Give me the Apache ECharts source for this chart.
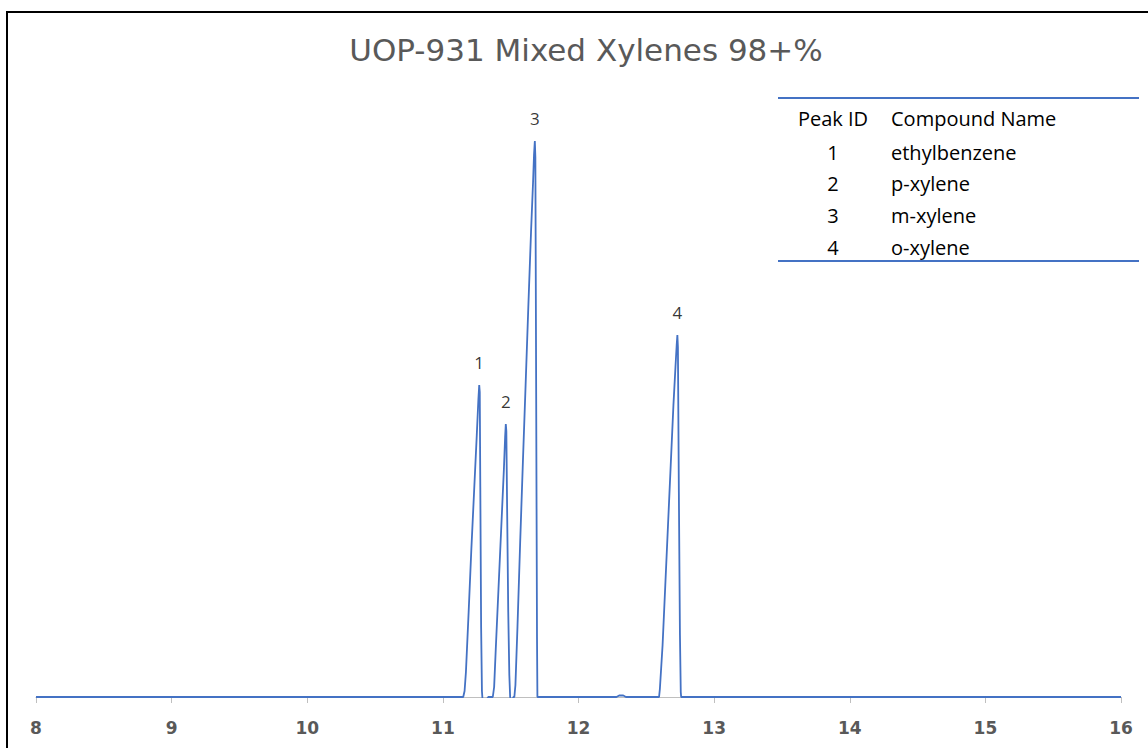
<!DOCTYPE html>
<html>
<head>
<meta charset="utf-8">
<script src="https://cdn.jsdelivr.net/npm/echarts@6/dist/echarts.min.js"></script>
<style>
  html, body { margin: 0; padding: 0; background: #fff; }
  #chart { width: 1148px; height: 748px; position: relative; }
  #frame { position: absolute; left: 6px; top: 11px; width: 1160px; height: 760px;
           border-left: 2px solid #000; border-top: 2px solid #000; pointer-events: none; z-index: 5; }
</style>
</head>
<body>
<div id="chart"></div>
<div id="frame"></div>
<script>
// ---- data (retention time in min, detector response in arbitrary units) ----
const titleText = 'UOP-931 Mixed Xylenes 98+%';
const xTicks = [8, 9, 10, 11, 12, 13, 14, 15, 16];

const baselineStart = [[8, 0], [11.15, 0]];
const peak1 = [[11.16, 6], [11.17, 25], [11.19, 85], [11.21, 148], [11.23, 205], [11.25, 262], [11.262, 298], [11.268, 312], [11.272, 305], [11.276, 210], [11.282, 70], [11.288, 6], [11.292, -2], [11.325, -2], [11.335, 0]];
const peak2 = [[11.368, 0], [11.378, 10], [11.39, 48], [11.41, 108], [11.43, 168], [11.45, 228], [11.459, 260], [11.464, 273], [11.468, 266], [11.474, 185], [11.482, 85], [11.49, 22], [11.496, 0], [11.50, -2], [11.515, -2], [11.52, 0]];
const peak3 = [[11.527, 0], [11.535, 12], [11.55, 70], [11.57, 155], [11.59, 235], [11.61, 312], [11.63, 390], [11.65, 465], [11.665, 515], [11.672, 542], [11.678, 556], [11.682, 540], [11.688, 300], [11.694, 60], [11.697, 0]];
const smallBump = [[12.28, 0], [12.30, 1.5], [12.33, 1.5], [12.35, 0]];
const peak4 = [[12.594, 0], [12.60, 8], [12.62, 52], [12.64, 112], [12.66, 172], [12.68, 232], [12.70, 292], [12.715, 330], [12.724, 352], [12.729, 362], [12.733, 350], [12.740, 205], [12.748, 62], [12.754, 5], [12.757, 0]];
const baselineEnd = [[16, 0]];

const peakLabels = ['1', '2', '3', '4'];
const peakX = [11.268, 11.464, 11.678, 12.729];
const peakY = [312, 273, 556, 362];

const tableHeaderId = 'Peak ID';
const tableHeaderName = 'Compound Name';
const tableIds = ['1', '2', '3', '4'];
const tableNames = ['ethylbenzene', 'p-xylene', 'm-xylene', 'o-xylene'];

// ---- build ----
const signal = [].concat(baselineStart, peak1, peak2, peak3, smallBump, peak4, baselineEnd);
const peakPoints = peakX.map((x, i) => ({ value: [x, peakY[i]], name: peakLabels[i] }));

const blue = '#4472C4';
const tableLeft = 778, tableRight = 1139, tableTop = 98, tableBottom = 261;
const idX = 833, nameX = 891;
const rowY = [118, 152, 183, 215, 247];
const tableFont = '20px "Open Sans", sans-serif';

const graphic = [
  { type: 'line', shape: { x1: tableLeft, y1: tableTop, x2: tableRight, y2: tableTop }, style: { stroke: blue, lineWidth: 2 } },
  { type: 'line', shape: { x1: tableLeft, y1: tableBottom, x2: tableRight, y2: tableBottom }, style: { stroke: blue, lineWidth: 2 } },
  { type: 'text', x: idX, y: rowY[0], style: { text: tableHeaderId, font: tableFont, fill: '#000', textAlign: 'center', textVerticalAlign: 'middle' } },
  { type: 'text', x: nameX, y: rowY[0], style: { text: tableHeaderName, font: tableFont, fill: '#000', textAlign: 'left', textVerticalAlign: 'middle' } }
];
tableIds.forEach((id, i) => {
  graphic.push({ type: 'text', x: idX, y: rowY[i + 1], style: { text: id, font: tableFont, fill: '#000', textAlign: 'center', textVerticalAlign: 'middle' } });
  graphic.push({ type: 'text', x: nameX, y: rowY[i + 1], style: { text: tableNames[i], font: tableFont, fill: '#000', textAlign: 'left', textVerticalAlign: 'middle' } });
});

const chart = echarts.init(document.getElementById('chart'), null, { renderer: 'svg' });
chart.setOption({
  animation: false,
  backgroundColor: '#fff',
  title: {
    text: titleText,
    left: 581, top: 29, textAlign: 'center',
    textStyle: { fontFamily: 'DejaVu Sans', fontSize: 31, fontWeight: 'normal', color: '#595959' }
  },
  grid: { left: 36, right: 27, top: 97, bottom: 51 },
  xAxis: {
    type: 'value', min: 8, max: 16, interval: 1,
    axisLine: { show: true, lineStyle: { color: '#bfbfbf', width: 1 } },
    axisTick: { show: true, length: 6, lineStyle: { color: '#bfbfbf' } },
    axisLabel: {
      margin: 22, fontFamily: 'DejaVu Sans', fontWeight: 'bold', fontSize: 17, color: '#595959',
      formatter: v => (xTicks.indexOf(v) >= 0 ? String(v) : '')
    },
    splitLine: { show: false }
  },
  yAxis: {
    type: 'value', min: 0, max: 600, show: false, splitLine: { show: false }
  },
  graphic: graphic,
  series: [
    {
      type: 'line', data: signal, showSymbol: false, symbol: 'none',
      lineStyle: { color: blue, width: 1.8 }, z: 3
    },
    {
      type: 'scatter', data: peakPoints, symbolSize: 0, z: 4,
      label: {
        show: true, position: 'top', distance: 14, formatter: p => p.name,
        fontFamily: '"Open Sans", sans-serif', fontSize: 17, color: '#000'
      }
    }
  ]
});
</script>
</body>
</html>
